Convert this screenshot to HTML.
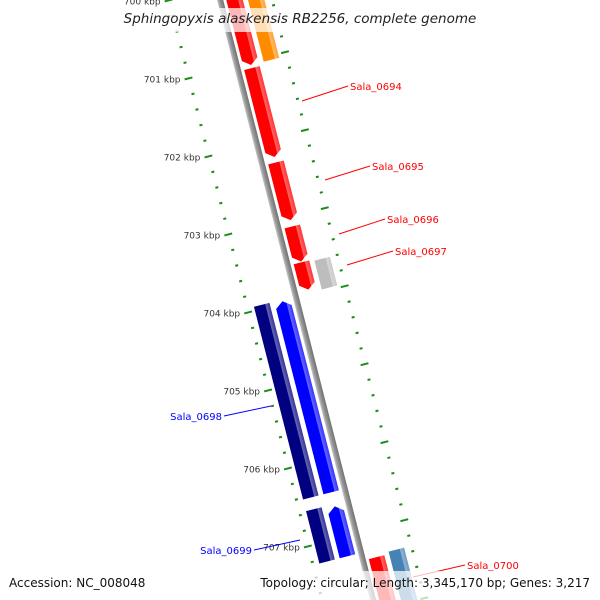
<!DOCTYPE html>
<html><head><meta charset="utf-8"><style>
html,body{margin:0;padding:0;background:#fff;width:600px;height:600px;overflow:hidden}
svg{display:block;font-family:"DejaVu Sans","Liberation Sans",sans-serif}
</style></head><body>
<svg id="chart" width="600" height="600" viewBox="0 0 600 600">
<defs>
<linearGradient id="gBack" x1="0" x2="1" y1="0" y2="0"><stop offset="0" stop-color="#c8c8c8"/><stop offset="0.35" stop-color="#9a9a9a"/><stop offset="1" stop-color="#707070"/></linearGradient>
</defs>
<g id="map" transform="translate(240,78) rotate(-14.3)"></g>
<g id="labels"></g>
<rect x="118" y="8" width="364" height="24" fill="#fff" fill-opacity="0.72"/>
<text x="300" y="23" text-anchor="middle" font-size="13.5" font-style="italic" fill="#222">Sphingopyxis alaskensis RB2256, complete genome</text>
<rect x="0" y="571" width="600" height="29" fill="#fff" fill-opacity="0.72"/>
<text x="9" y="587" font-size="12" fill="#111">Accession: NC_008048</text>
<text x="590" y="587" text-anchor="end" font-size="12" fill="#111">Topology: circular; Length: 3,345,170 bp; Genes: 3,217</text>
</svg>
<script>
// Data (positions in kbp)
const geneNames = ["gene-top","Sala_0694","Sala_0695","Sala_0696","Sala_0697","other-0697","orange-top","Sala_0698","navy-0698","Sala_0699","navy-0699","Sala_0700","steel-0700"];
const geneStart = [699.65,701.07,702.28,703.10,703.56,703.58,699.65,703.97,703.95,706.60,706.57,707.34,707.31];
const geneEnd   = [701.03,702.21,703.02,703.55,703.91,703.95,701.03,706.42,706.42,707.24,707.24,708.1,708.1];
const geneTrack = [1,1,1,1,1,2,2,-1,-2,-1,-2,1,2];
const geneColor = ["#ff0000","#ff0000","#ff0000","#ff0000","#ff0000","#bdbdbd","#ff8c00","#0000ff","#000080","#0000ff","#000080","#ff0000","#4682b4"];
const geneArrow = [1,1,1,1,1,0,0,-1,0,-1,0,0,0];
const labelText = ["Sala_0694","Sala_0695","Sala_0696","Sala_0697","Sala_0698","Sala_0699","Sala_0700"];
const labelColor= ["#ff0000","#ff0000","#ff0000","#ff0000","#0000ff","#0000ff","#ff0000"];
const labelX    = [350,372,387,395,222,252,467];
const labelY    = [86,166,219,251,416,550,565];
const labelAnchorX=[302,325,339,347,271,300,413];
const labelAnchorY=[101,180,234,265,406,540,577];
const innerTickKbp = [700,701,702,703,704,705,706,707];
const innerTickLabels = ["700 kbp","701 kbp","702 kbp","703 kbp","704 kbp","705 kbp","706 kbp","707 kbp"];
const outerTickOffset = 0.98;

const NS="http://www.w3.org/2000/svg";
const g=document.getElementById('map'), L=document.getElementById('labels'), defs=document.querySelector('defs');
const KP=80.5, ANG=-14.3*Math.PI/180, OX=240, OY=78, K0=701.153;
const yS=k=>(k-K0)*KP;
const trackX=t=>t===0?0:Math.sign(t)*(Math.abs(t)===1?14:35);
function toGlobal(k,off){const y=yS(k);return [OX+off*Math.cos(ANG)-y*Math.sin(ANG), OY+off*Math.sin(ANG)+y*Math.cos(ANG)];}
function mk(tag,attrs,parent){const e=document.createElementNS(NS,tag);for(const a in attrs)e.setAttribute(a,attrs[a]);parent.appendChild(e);return e;}
function lighten(c,f){const n=parseInt(c.slice(1),16);let r=n>>16,gg=(n>>8)&255,b=n&255;r=Math.round(r+(255-r)*f);gg=Math.round(gg+(255-gg)*f);b=Math.round(b+(255-b)*f);return `rgb(${r},${gg},${b})`;}

// backbone
const bb=mk('rect',{x:-3,y:yS(699),width:6,height:yS(709)-yS(699),fill:'url(#gBack)'},g);



// ticks
for(let k=699.6;k<=708.2;k+=0.2){
  const kk=Math.round(k*10)/10;
  const major=Math.abs(kk-Math.round(kk))<1e-6;
  const t=mk('line',{x1:major?-54:-51,x2:major?-46:-48,y1:yS(kk),y2:yS(kk),stroke:'#1a8c1a','stroke-width':2},g);
  
  
}
for(let k=699.6+outerTickOffset-1;k<=708.5;k+=0.2){
  const kk=Math.round(k*100)/100;
  const major=Math.abs((kk-outerTickOffset)-Math.round(kk-outerTickOffset))<1e-6;
  const t=mk('line',{x1:major?46:49,x2:major?54:52,y1:yS(kk),y2:yS(kk),stroke:'#1a8c1a','stroke-width':2},g);
  
  
}
innerTickKbp.forEach((k,i)=>{
  const [x,y]=toGlobal(k,-50);
  const t=mk('text',{x:x-8,y:y+4,'text-anchor':'end','font-size':9,fill:'#333'},L);
  t.textContent=innerTickLabels[i];
  
  
});

// genes
geneNames.forEach((n,i)=>{
  const id='gr'+i;
  const gr=mk('linearGradient',{id:id,x1:0,x2:1,y1:0,y2:0},defs);
  mk('stop',{offset:0,'stop-color':geneColor[i]},gr);
  mk('stop',{offset:0.7,'stop-color':geneColor[i]},gr);
  mk('stop',{offset:0.74,'stop-color':lighten(geneColor[i],0.4)},gr);
  mk('stop',{offset:1,'stop-color':lighten(geneColor[i],0.2)},gr);
  const c=trackX(geneTrack[i]),w=8,h=6,y0=yS(geneStart[i]),y1=yS(geneEnd[i]);
  let pts;
  if(geneArrow[i]===1) pts=[[c-w,y0],[c+w,y0],[c+w,y1-h],[c,y1],[c-w,y1-h]];
  else if(geneArrow[i]===-1) pts=[[c,y0],[c+w,y0+h],[c+w,y1],[c-w,y1],[c-w,y0+h]];
  else pts=[[c-w,y0],[c+w,y0],[c+w,y1],[c-w,y1]];
  const p=mk('polygon',{points:pts.map(p=>p.join(',')).join(' '),fill:`url(#${id})`},g);
  
  
});

// labels
labelText.forEach((s,i)=>{
  const ln=mk('line',{x1:labelAnchorX[i],y1:labelAnchorY[i],x2:labelX[i]+(labelX[i]<labelAnchorX[i]?2:-2),y2:labelY[i],stroke:labelColor[i],'stroke-width':1},L);
  
  
  const t=mk('text',{x:labelX[i],y:labelY[i]+4,'font-size':10,fill:labelColor[i],'text-anchor':labelX[i]<labelAnchorX[i]?'end':'start'},L);
  t.textContent=s;
  
  
});
</script>
</body></html>
